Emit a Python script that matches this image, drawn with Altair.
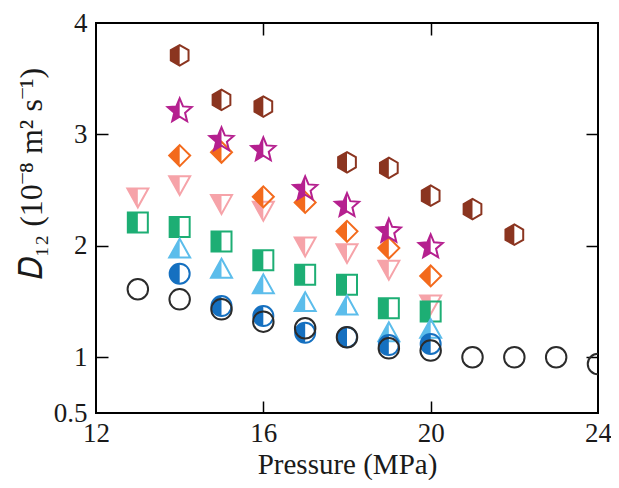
import altair as alt
import pandas as pd

# ---- data ----
hex_p = [14, 15, 16, 18, 19, 20, 21, 22]
hex_d = [3.71, 3.31, 3.25, 2.75, 2.70, 2.45, 2.33, 2.10]

star_p = [14, 15, 16, 17, 18, 19, 20]
star_d = [3.21, 2.95, 2.86, 2.51, 2.36, 2.13, 1.99]

dia_p = [14, 15, 16, 17, 18, 19, 20]
dia_d = [2.81, 2.84, 2.44, 2.39, 2.13, 1.98, 1.73]

tdn_p = [13, 14, 15, 16, 17, 18, 19, 20]
tdn_d = [2.44, 2.55, 2.38, 2.32, 2.00, 1.94, 1.79, 1.48]

sq_p = [13, 14, 15, 16, 17, 18, 19, 20]
sq_d = [2.21, 2.17, 2.04, 1.87, 1.74, 1.65, 1.44, 1.41]

tup_p = [14, 15, 16, 17, 18, 19, 20]
tup_d = [1.97, 1.79, 1.65, 1.49, 1.46, 1.22, 1.25]

hc_p = [14, 15, 16, 17, 18, 19, 20]
hc_d = [1.75, 1.46, 1.37, 1.22, 1.18, 1.11, 1.12]

oc_p = [13, 14, 15, 16, 17, 18, 19, 20, 21, 22, 23, 24]
oc_d = [1.61, 1.52, 1.43, 1.32, 1.26, 1.18, 1.08, 1.06, 1.00, 1.00, 1.00, 0.94]

x_ticks = [12, 16, 20, 24]
y_ticks = [0.5, 1, 2, 3, 4]

# ---- marker styles ----
FULL = {
    "hex": "M0,-1 L0.866,-0.5 L0.866,0.5 L0,1 L-0.866,0.5 L-0.866,-0.5 Z",
    "star": "M0,-1 L0.265,-0.364 L0.951,-0.309 L0.428,0.139 L0.588,0.809 L0,0.45 L-0.588,0.809 L-0.428,0.139 L-0.951,-0.309 L-0.265,-0.364 Z",
    "dia": "M0,-1 L1,0 L0,1 L-1,0 Z",
    "tdn": "M-1,-0.8 L1,-0.8 L0,1 Z",
    "sq": "M-1,-1 L1,-1 L1,1 L-1,1 Z",
    "tup": "M0,-1 L1,0.8 L-1,0.8 Z",
    "hc": "M0,-1 A1,1 0 0,1 0,1 A1,1 0 0,1 0,-1 Z",
    "oc": "M0,-1 A1,1 0 0,1 0,1 A1,1 0 0,1 0,-1 Z",
}
HALF = {
    "hex": "M0,-1 L-0.866,-0.5 L-0.866,0.5 L0,1 Z",
    "star": "M0,-1 L0,0.45 L-0.588,0.809 L-0.428,0.139 L-0.951,-0.309 L-0.265,-0.364 Z",
    "dia": "M0,-1 L-1,0 L0,1 Z",
    "tdn": "M-1,-0.8 L0,-0.8 L0,1 Z",
    "sq": "M-1,-1 L0,-1 L0,1 L-1,1 Z",
    "tup": "M0,-1 L0,0.8 L-1,0.8 Z",
    "hc": "M0,-1 A1,1 0 0,0 0,1 Z",
}
COLOR = {
    "hex": "#8b3520", "star": "#b5208f", "dia": "#f36a1c", "tdn": "#f6a3a9",
    "sq": "#1dae74", "tup": "#5cbdeb", "hc": "#1570c0", "oc": "#2b2b2b",
}
SIZE = {"hex": 420, "star": 640, "dia": 440, "tdn": 440, "sq": 400,
        "tup": 440, "hc": 400, "oc": 420}

series = [("tdn", tdn_p, tdn_d), ("sq", sq_p, sq_d), ("tup", tup_p, tup_d),
          ("hc", hc_p, hc_d), ("dia", dia_p, dia_d), ("star", star_p, star_d),
          ("hex", hex_p, hex_d), ("oc", oc_p, oc_d)]

rows = []
for name, ps, ds in series:
    for p, d in zip(ps, ds):
        if name in HALF:
            rows.append(dict(s=name, p=p, d=d, path=HALF[name], fill=COLOR[name],
                             stroke="transparent", sz=SIZE[name]))
        rows.append(dict(s=name, p=p, d=d, path=FULL[name], fill="transparent",
                         stroke=COLOR[name], sz=SIZE[name]))
df = pd.DataFrame(rows)

W, H = 502, 390
PAD_L, PAD_T, PAD_R = 88, 15, 13
FONT = "Liberation Serif"
xs = alt.Scale(domain=[12, 24], nice=False, zero=False)
ys = alt.Scale(domain=[0.5, 4], nice=False, zero=False)

def tick_axis(orient, offset, values):
    return alt.Axis(orient=orient, offset=offset, values=values, labels=False,
                    title=None, domain=False, grid=False, ticks=True,
                    tickSize=12, tickColor="black", tickWidth=1.5)

def layer(names, xaxis, yaxis):
    sub = df[df["s"].isin(names)]
    return alt.Chart(sub).mark_point(filled=True, opacity=1, strokeWidth=2, clip=True).encode(
        x=alt.X("p:Q", scale=xs, axis=xaxis),
        y=alt.Y("d:Q", scale=ys, axis=yaxis),
        shape=alt.Shape("path:N", scale=None),
        fill=alt.Fill("fill:N", scale=None),
        stroke=alt.Stroke("stroke:N", scale=None),
        size=alt.Size("sz:Q", scale=None),
        order=alt.Order("idx:Q"),
    ).transform_window(idx="row_number()")

x_lab = alt.Axis(orient="bottom", values=x_ticks, ticks=False, domain=False, grid=False,
                 labelFlush=False, labelPadding=7, format="d", title="Pressure (MPa)",
                 titlePadding=4, labelFont=FONT, titleFont=FONT)
y_lab = alt.Axis(orient="left", values=y_ticks, ticks=False, domain=False, grid=False,
                 labelPadding=9, format="~g", title="𝐷₁₂ (10⁻⁸ m² s⁻¹)", titlePadding=5,
                 labelFont=FONT, titleFont=FONT, titleFontSize=32, titleY=150)

la = layer(["tdn", "sq", "tup", "hc"], x_lab, y_lab)
lb = layer(["dia", "star", "hex"], tick_axis("top", -H, [16, 20]), tick_axis("right", -W, [1, 2, 3]))
lc = layer(["oc"], tick_axis("bottom", -H, [16, 20]), tick_axis("left", -W, [1, 2, 3]))

chart = alt.layer(la, lb, lc).resolve_axis(x="independent", y="independent").properties(
    width=W, height=H,
    autosize=alt.AutoSizeParams(type="none"),
    padding={"left": PAD_L, "top": PAD_T, "right": PAD_R, "bottom": 472 - PAD_T - H},
).configure_view(stroke="black", strokeWidth=2).configure_axis(
    labelFont=FONT, labelFontSize=27, labelColor="#1a1a1a",
    titleFont=FONT, titleFontSize=29, titleColor="#1a1a1a", titleFontWeight="normal"
)

chart.save("out.html", embed_options={"renderer": "svg", "actions": False})
